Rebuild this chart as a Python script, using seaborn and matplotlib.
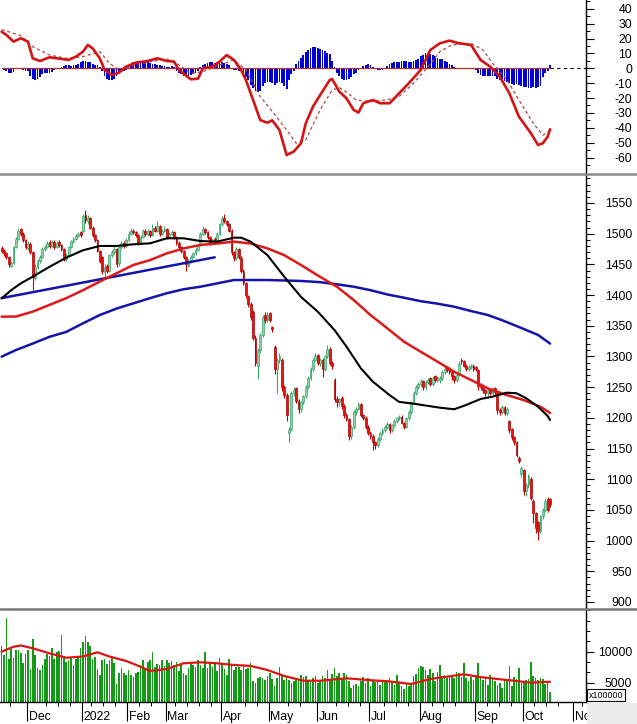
import numpy as np
import pandas as pd
import matplotlib
matplotlib.use("Agg")
import matplotlib.pyplot as plt
import seaborn as sns
from matplotlib.lines import Line2D
from matplotlib.patches import Rectangle
from matplotlib.ticker import MultipleLocator, FixedLocator, NullFormatter

# ---------------- data ----------------
first_day, last_day = "2021-11-16", "2022-10-18"
holidays = ["2022-01-03", "2022-01-31", "2022-02-01", "2022-02-02", "2022-02-03",
            "2022-02-04", "2022-04-11", "2022-05-02", "2022-05-03", "2022-09-01", "2022-09-02"]
month_labels = ["Dec", "2022", "Feb", "Mar", "Apr", "May", "Jun", "Jul", "Aug", "Sep", "Oct", "Nov"]
macd_ticks = [40, 30, 20, 10, 0, -10, -20, -30, -40, -50, -60]
price_ticks = [1550, 1500, 1450, 1400, 1350, 1300, 1250, 1200, 1150, 1100, 1050, 1000, 950, 900]
volume_ticks = [10000, 5000]

open_ = [
    1476, 1472, 1468, 1462, 1448, 1452, 1478, 1492, 1508, 1500,
    1490, 1476, 1484, 1470, 1428, 1445, 1455, 1462, 1475, 1478,
    1487, 1480, 1487, 1478, 1486, 1482, 1475, 1458, 1465, 1478,
    1488, 1492, 1497, 1502, 1505, 1530, 1520, 1525, 1510, 1498,
    1490, 1472, 1462, 1438, 1448, 1440, 1465, 1470, 1475, 1452,
    1478, 1485, 1480, 1490, 1500, 1505, 1502, 1498, 1485, 1495,
    1505, 1500, 1504, 1498, 1510, 1505, 1512, 1500, 1505, 1508,
    1495, 1500, 1502, 1495, 1485, 1478, 1472, 1462, 1448, 1455,
    1462, 1468, 1474, 1482, 1500, 1508, 1502, 1495, 1485, 1492,
    1488, 1500, 1515, 1526, 1520, 1515, 1505, 1470, 1460, 1475,
    1460, 1440, 1420, 1398, 1385, 1372, 1330, 1285, 1310, 1335,
    1368, 1360, 1370, 1348, 1316, 1280, 1295, 1295, 1250, 1238,
    1175, 1182, 1240, 1248, 1228, 1215, 1225, 1235, 1250, 1265,
    1280, 1295, 1302, 1290, 1295, 1280, 1300, 1312, 1290, 1262,
    1230, 1225, 1232, 1220, 1205, 1198, 1170, 1185, 1210, 1215,
    1222, 1205, 1200, 1185, 1175, 1170, 1160, 1155, 1165, 1175,
    1180, 1185, 1190, 1180, 1188, 1195, 1200, 1202, 1192, 1185,
    1200, 1210, 1225, 1240, 1250, 1255, 1260, 1250, 1258, 1265,
    1255, 1268, 1262, 1262, 1265, 1275, 1282, 1280, 1275, 1268,
    1262, 1270, 1295, 1292, 1285, 1280, 1283, 1285, 1282, 1278,
    1252, 1252, 1245, 1240, 1245, 1240, 1248, 1240, 1212, 1210,
    1218, 1208, 1195, 1182, 1168, 1160, 1135, 1108, 1115, 1080,
    1090, 1100, 1065, 1045, 1030, 1015, 1040, 1050, 1068, 1068,
]
high = [
    1480, 1475, 1470, 1463, 1456, 1480, 1495, 1510, 1510, 1502,
    1492, 1488, 1486, 1472, 1450, 1458, 1465, 1478, 1482, 1488,
    1490, 1490, 1489, 1488, 1489, 1484, 1477, 1468, 1480, 1490,
    1495, 1500, 1503, 1505, 1532, 1538, 1530, 1527, 1512, 1500,
    1492, 1474, 1464, 1450, 1450, 1467, 1473, 1480, 1477, 1480,
    1488, 1488, 1493, 1505, 1510, 1507, 1504, 1500, 1498, 1508,
    1507, 1507, 1506, 1515, 1513, 1520, 1514, 1508, 1512, 1510,
    1503, 1506, 1504, 1497, 1488, 1480, 1474, 1463, 1458, 1465,
    1470, 1477, 1483, 1502, 1512, 1510, 1504, 1497, 1493, 1494,
    1502, 1518, 1528, 1532, 1522, 1518, 1507, 1472, 1478, 1477,
    1463, 1442, 1422, 1400, 1388, 1375, 1335, 1314, 1338, 1368,
    1372, 1372, 1372, 1350, 1318, 1298, 1305, 1298, 1254, 1240,
    1185, 1243, 1250, 1250, 1230, 1228, 1238, 1253, 1268, 1283,
    1298, 1306, 1304, 1298, 1298, 1302, 1319, 1315, 1293, 1265,
    1235, 1233, 1235, 1222, 1208, 1200, 1188, 1212, 1218, 1225,
    1224, 1207, 1203, 1188, 1178, 1173, 1162, 1168, 1178, 1183,
    1188, 1193, 1192, 1190, 1198, 1202, 1205, 1204, 1194, 1202,
    1213, 1228, 1243, 1253, 1258, 1263, 1262, 1261, 1265, 1267,
    1268, 1270, 1268, 1268, 1278, 1283, 1284, 1282, 1277, 1270,
    1273, 1292, 1298, 1294, 1287, 1286, 1288, 1287, 1285, 1280,
    1256, 1255, 1247, 1248, 1247, 1251, 1250, 1242, 1216, 1221,
    1220, 1218, 1197, 1184, 1170, 1162, 1138, 1122, 1117, 1094,
    1108, 1103, 1067, 1047, 1032, 1042, 1053, 1070, 1071, 1070,
]
low = [
    1468, 1464, 1458, 1445, 1446, 1450, 1476, 1490, 1497, 1487,
    1475, 1474, 1467, 1408, 1425, 1442, 1452, 1460, 1472, 1476,
    1477, 1478, 1475, 1476, 1479, 1472, 1455, 1455, 1463, 1476,
    1485, 1490, 1495, 1495, 1502, 1518, 1516, 1508, 1495, 1487,
    1470, 1452, 1435, 1430, 1436, 1438, 1462, 1467, 1446, 1448,
    1475, 1477, 1478, 1488, 1498, 1499, 1495, 1482, 1483, 1493,
    1497, 1497, 1495, 1496, 1502, 1502, 1497, 1498, 1503, 1492,
    1493, 1498, 1492, 1482, 1475, 1469, 1459, 1440, 1445, 1452,
    1460, 1466, 1472, 1480, 1498, 1499, 1492, 1482, 1482, 1485,
    1486, 1498, 1513, 1517, 1512, 1502, 1466, 1455, 1457, 1458,
    1436, 1416, 1396, 1380, 1360, 1326, 1285, 1264, 1306, 1332,
    1355, 1356, 1356, 1340, 1272, 1240, 1290, 1243, 1232, 1195,
    1161, 1178, 1235, 1224, 1208, 1210, 1222, 1232, 1247, 1262,
    1277, 1292, 1286, 1285, 1267, 1277, 1298, 1286, 1280, 1226,
    1218, 1220, 1215, 1200, 1195, 1164, 1165, 1182, 1205, 1212,
    1202, 1196, 1182, 1172, 1165, 1147, 1150, 1152, 1162, 1172,
    1177, 1182, 1176, 1177, 1185, 1192, 1197, 1190, 1182, 1183,
    1197, 1207, 1222, 1237, 1247, 1252, 1246, 1247, 1255, 1252,
    1252, 1258, 1258, 1256, 1262, 1272, 1274, 1272, 1262, 1256,
    1258, 1268, 1288, 1282, 1276, 1277, 1280, 1277, 1276, 1245,
    1246, 1240, 1236, 1236, 1237, 1237, 1238, 1207, 1204, 1207,
    1204, 1205, 1176, 1164, 1156, 1136, 1126, 1104, 1075, 1072,
    1086, 1066, 1028, 1012, 1001, 1012, 1036, 1046, 1046, 1055,
]
close = [
    1472, 1468, 1462, 1450, 1452, 1478, 1492, 1505, 1500, 1490,
    1478, 1484, 1470, 1430, 1445, 1455, 1462, 1475, 1478, 1485,
    1480, 1487, 1478, 1485, 1482, 1475, 1458, 1465, 1478, 1488,
    1492, 1497, 1500, 1498, 1528, 1522, 1525, 1510, 1498, 1490,
    1472, 1455, 1440, 1445, 1440, 1465, 1470, 1475, 1450, 1478,
    1485, 1480, 1490, 1500, 1505, 1502, 1498, 1485, 1495, 1505,
    1500, 1504, 1498, 1510, 1505, 1512, 1500, 1505, 1508, 1495,
    1500, 1502, 1495, 1485, 1478, 1472, 1462, 1450, 1455, 1462,
    1468, 1474, 1480, 1500, 1508, 1502, 1495, 1485, 1490, 1488,
    1500, 1515, 1524, 1520, 1515, 1505, 1470, 1460, 1475, 1462,
    1440, 1420, 1400, 1385, 1365, 1330, 1290, 1310, 1335, 1365,
    1360, 1368, 1360, 1345, 1280, 1295, 1300, 1250, 1238, 1205,
    1180, 1240, 1245, 1228, 1215, 1225, 1235, 1250, 1265, 1280,
    1295, 1300, 1290, 1295, 1280, 1300, 1312, 1290, 1285, 1230,
    1225, 1230, 1220, 1205, 1198, 1170, 1185, 1210, 1215, 1222,
    1205, 1200, 1185, 1175, 1170, 1160, 1155, 1165, 1175, 1180,
    1185, 1190, 1180, 1188, 1195, 1200, 1202, 1192, 1185, 1200,
    1210, 1225, 1240, 1250, 1255, 1260, 1250, 1258, 1262, 1255,
    1265, 1262, 1266, 1265, 1275, 1280, 1278, 1275, 1268, 1262,
    1270, 1288, 1292, 1285, 1280, 1283, 1285, 1280, 1280, 1252,
    1250, 1245, 1240, 1245, 1240, 1248, 1242, 1212, 1210, 1218,
    1208, 1215, 1180, 1168, 1160, 1140, 1130, 1118, 1080, 1090,
    1105, 1070, 1045, 1020, 1015, 1040, 1050, 1065, 1050, 1060,
]
volume = [
    11000, 9500, 15400, 8800, 10500, 9000, 10200, 10300, 9800, 8200,
    9700, 10200, 7200, 12000, 9500, 7400, 7000, 7800, 8900, 9600,
    9300, 10600, 8800, 9900, 10100, 12700, 9300, 8300, 8700, 9200,
    7800, 8900, 9200, 10600, 11600, 12600, 11500, 10900, 8800, 9100,
    7200, 6200, 8600, 8800, 8000, 8700, 9000, 8200, 4800, 6500,
    7300, 6600, 6200, 7000, 6300, 5900, 6500, 6800, 7800, 8700,
    7300, 8300, 8600, 9900, 7600, 8000, 7800, 8600, 7700, 8700,
    8100, 8500, 7900, 8300, 6900, 8000, 6600, 6200, 7400, 8000,
    7800, 7500, 8600, 7900, 7400, 10000, 7400, 8000, 7600, 8400,
    6900, 9000, 8200, 7200, 6300, 8900, 7800, 7000, 7500, 7600,
    7000, 8000, 7200, 7400, 8100, 5300, 5000, 5700, 5900, 5700,
    5400, 6000, 6600, 5600, 4400, 5800, 7600, 6200, 5500, 6000,
    5500, 4900, 5300, 5800, 5400, 6300, 5900, 6000, 5200, 5100,
    5800, 6000, 4900, 5500, 6000, 5800, 7000, 5400, 6400, 7300,
    6000, 6600, 5800, 6600, 6200, 5300, 4200, 4600, 4800, 4400,
    5300, 5900, 5000, 5800, 4400, 5300, 5100, 5400, 4700, 5500,
    5300, 5200, 5800, 5100, 4600, 6300, 4900, 4400, 4000, 5000,
    4500, 4600, 6000, 6400, 7300, 7700, 7500, 7000, 6200, 7200,
    6600, 5300, 6800, 7900, 6000, 6200, 5800, 6100, 5900, 5800,
    6700, 6500, 5900, 8100, 5700, 5300, 5900, 5500, 6300, 8100,
    5800, 5400, 5900, 4700, 6300, 5800, 5200, 4700, 5000, 4200,
    5500, 5300, 7700, 4400, 5900, 5600, 7300, 5000, 4900, 5400,
    5600, 8400, 6100, 5700, 5400, 5800, 5600, 4800, 5200, 3500,
]
macd_hist = [
    0, -1, -2, -3, -3.4, -2.5, -0.5, -0.5, -0.5, -1,
    -2, -1.5, -5, -7, -8, -7.5, -6, -4, -3.5, -3,
    -3, -2.5, -1, -0.5, 0, 1, 1.5, 2, 2, 1.5,
    2, 2.5, 3, 4, 5, 5, 4.5, 4, 3, 2.5,
    2, 1, -2, -5, -7, -8, -8, -7, -5, -3,
    -2, -1.5, -1, 2, 3, 4, 4.5, 5, 5, 4.5,
    4, 4, 3.5, 3, 3, 2.5, 2, 1.5, 1.5, 1,
    1, 1.5, 1, -2, -3, -4, -5, -5, -5, -4.5,
    -4, -3, -2, 1, 2, 3, 3.5, 4, 4, 3.5,
    3.5, 4, 4, 3.5, 3, 2, 0, -1, -1, -1.5,
    -2, -4, -6, -8, -11, -13, -15, -16, -15, -12,
    -10, -9, -9, -10, -11, -10, -9, -10, -12, -14,
    -8, -4, -2, 3, 5, 7, 9, 11, 12.5, 13.5,
    14, 14, 13.5, 13, 12, 11.5, 10.5, 9.5, 5, 1,
    -3, -5, -7, -8, -8, -7, -6, -4, -3, -1,
    0, 1.5, 2.5, 2.7, 2.5, 1, -0.5, -1, -1, -1,
    -0.5, 1.5, 3, 3.5, 4, 4, 4.5, 5, 5, 5,
    4.5, 4.5, 5, 5.5, 6, 8, 9, 10, 10, 9.5,
    9, 8.5, 7, 6.5, 6, 5, 4, 3, 2, 1,
    0.5, 0.5, 0, 0, 0.5, 0, 0, -0.5, -1, -3,
    -4.5, -5, -5.5, -5.5, -5.5, -5, -5.5, -7, -8, -8,
    -8.5, -9, -10, -10.5, -11, -10.5, -11, -12, -12.5, -12.5,
    -13, -13, -12.5, -13, -12.5, -12, -6, -3, -1.5, 2,
]

# moving averages / indicator lines (trading-day number, value)
ma_black_day = [0, 4, 8, 13, 20, 27, 34, 41, 48, 55, 62, 69, 76, 83, 90, 97, 100, 104, 111, 118,
                125, 132, 139, 144, 150, 155, 162, 166, 173, 183, 189, 194, 200, 205, 211, 215,
                219, 224, 228, 229]
ma_black_val = [1394.6, 1408, 1419, 1430, 1446, 1461, 1473, 1480, 1480, 1482.7, 1484.3, 1492.5,
                1492.5, 1488, 1487, 1493.5, 1493.5, 1487, 1465, 1430, 1397, 1373, 1343, 1316,
                1280.7, 1259, 1237, 1226, 1222.5, 1216.5, 1214, 1221, 1230.7, 1234.5, 1241, 1240,
                1232, 1218, 1203, 1196.5]
ma_red_day = [0, 6, 13, 20, 27, 34, 41, 48, 55, 62, 69, 76, 83, 90, 97, 104, 111, 118, 125, 132,
              140, 147, 154, 161, 168, 175, 182, 189, 196, 203, 211, 218, 225, 229]
ma_red_val = [1364.8, 1365, 1373, 1384, 1395, 1408, 1422, 1435.5, 1449, 1457, 1468, 1476, 1481.6,
              1484, 1487, 1484, 1476, 1465, 1449, 1432, 1413.6, 1392, 1367.5, 1346, 1324, 1307.7,
              1291.5, 1275, 1261.6, 1248, 1237, 1229, 1218, 1208]
ma_blue_day = [0, 6, 13, 20, 27, 34, 41, 48, 55, 62, 69, 76, 83, 90, 97, 111, 125, 133, 140, 147,
               154, 161, 168, 175, 182, 189, 196, 203, 209, 216, 224, 229]
ma_blue_val = [1299.6, 1310.5, 1321, 1332, 1340, 1354, 1367.5, 1378, 1386.5, 1395, 1403, 1409.5,
               1413.6, 1419, 1424.5, 1424.5, 1423, 1421, 1417.5, 1413.6, 1408, 1401, 1395.7, 1390,
               1386, 1381, 1374, 1367.5, 1359, 1348, 1335, 1321]
trend_day = [0, 89]
trend_val = [1395, 1461.5]

macd_day = [0, 2, 5, 8, 11, 13, 16, 20, 24, 28, 31, 34, 36, 38, 41, 43, 46, 49, 52, 56, 61, 65,
            69, 72, 74, 79, 82, 84, 88, 91, 94, 97, 100, 102, 105, 108, 111, 113, 116, 119, 122,
            125, 127, 130, 133, 137, 138, 141, 144, 147, 149, 151, 155, 158, 162, 166, 170, 175,
            179, 183, 187, 191, 196, 200, 204, 208, 212, 216, 221, 224, 226, 228, 229]
macd_val = [24.6, 22.4, 17.9, 20.2, 17.9, 6.7, 4.9, 7.4, 6.5, 5.6, 7.8, 11.2, 15.7, 13.4, 6.7,
            -1.1, -4.5, -3, 1.1, 3.8, 4.9, 6.7, 4.9, 4.5, -1.1, -7.4, -7, 0, 1.1, 4.5, 8.9, 5.6,
            -1.1, -7.9, -21.3, -34.8, -36.6, -35, -41.5, -58.3, -56, -50.4, -37, -25.8, -18,
            -7.9, -7.2, -15.7, -20.2, -28, -29.8, -23.5, -21.3, -23.5, -23.5, -16.8, -10.1,
            -1.1, 12.3, 16.8, 18.6, 16.8, 15.7, 5.6, 1.1, -5.6, -16.8, -32.5, -43.7, -51.6,
            -50.4, -46, -41]
signal_day = [0, 8, 13, 20, 27, 34, 41, 45, 49, 55, 62, 69, 74, 79, 84, 90, 97, 102, 108, 113,
              119, 123, 127, 133, 138, 141, 144, 148, 154, 161, 166, 172, 178, 183, 188, 196, 201,
              205, 211, 216, 222, 226, 229]
signal_val = [26, 22, 14.5, 8.9, 6.7, 7.8, 11.2, 3.4, -1.1, 1.6, 4.5, 6.2, 2.3, -3.4, -2.3, 1.6,
              5.6, -1.1, -19, -29, -41.5, -50.4, -48, -28, -14.6, -13, -16, -21.3, -22.4, -21.3,
              -19, -10.1, 1.1, 11.2, 15.7, 16.8, 12.3, 3.4, -7.9, -21.3, -37, -45, -42]
vol_ma_day = [0, 5, 8, 13, 20, 27, 34, 40, 45, 52, 58, 62, 69, 76, 83, 90, 97, 104, 111, 118, 126,
              133, 144, 154, 161, 171, 179, 186, 193, 200, 207, 214, 221, 229]
vol_ma_val = [10000, 10800, 11000, 10550, 9740, 9030, 9230, 9900, 9230, 8500, 7580, 6890, 7210,
              8130, 8290, 8130, 7855, 7700, 7050, 6080, 5320, 5320, 5710, 5400, 5240, 4790, 5600,
              5970, 6355, 5900, 5600, 5320, 5000, 5160]

# ---------------- calendar ----------------
cal = pd.bdate_range(first_day, "2022-11-30", freq="C", holidays=holidays)
dates = cal[cal <= pd.Timestamp(last_day)]
n = len(dates)
pos = np.arange(n)
o = np.array(open_, float); h = np.array(high, float)
l = np.array(low, float); c = np.array(close, float)
assert len(o) == len(h) == len(l) == len(c) == len(volume) == len(macd_hist) == n

cal_idx = pd.Series(np.arange(len(cal)), index=cal)
month_first = cal_idx.groupby([cal.year, cal.month]).first().values[1:]
mondays = np.array([i for i, d in enumerate(cal) if d.dayofweek == 0
                    and np.min(np.abs(month_first - i)) > 3])

# ---------------- figure ----------------
sns.set_theme(style="white")
plt.rcParams["font.family"] = ["Liberation Sans", "DejaVu Sans"]
plt.rcParams["axes.unicode_minus"] = False

W, H = 637, 724
fig = plt.figure(figsize=(W / 100, H / 100), dpi=100)
fig.patch.set_facecolor("white")
ax_w = 585.5 / W
ax_m = fig.add_axes([0, 1 - 173 / H, ax_w, 173 / H])
ax_p = fig.add_axes([0, 1 - 608 / H, ax_w, 433 / H])
ax_v = fig.add_axes([0, 1 - 702 / H, ax_w, 92 / H])

XL = (-0.67, 243.8)
GREEN_UP = "#3FA56C"
RED_DN = "#E31414"

# ---- MACD panel
ax_m.bar(pos, macd_hist, width=0.75, color="#0000D8", linewidth=0, zorder=2)
ax_m.plot([pos[0], pos[-1]], [0, 0], color="#B03030", lw=0.9, zorder=3)
ax_m.plot([pos[-1], XL[1]], [0, 0], color="black", lw=0.8, ls=(0, (3, 3)), zorder=3)
sns.lineplot(x=signal_day, y=signal_val, ax=ax_m, color="#B04848", linewidth=0.9,
             linestyle=(0, (2.5, 2.2)), zorder=4)
sns.lineplot(x=macd_day, y=macd_val, ax=ax_m, color="#D41414", linewidth=1.9, zorder=5)
ax_m.set_ylim(-70.4, 45.9)
ax_m.yaxis.set_major_locator(FixedLocator(macd_ticks))
ax_m.yaxis.set_minor_locator(FixedLocator(np.arange(-65, 46, 5)))

# ---- price panel
up = c >= o
body_lo = np.minimum(o, c)
body_h = np.maximum(np.abs(c - o), 0.8)
ax_p.vlines(pos[up], l[up], h[up], color=GREEN_UP, lw=0.8, zorder=2)
ax_p.vlines(pos[~up], l[~up], h[~up], color="#C80000", lw=0.8, zorder=2)
ax_p.bar(pos[up], body_h[up], bottom=body_lo[up], width=0.75, color="#8FD3AC",
         edgecolor=GREEN_UP, linewidth=0.5, zorder=3)
ax_p.bar(pos[~up], body_h[~up], bottom=body_lo[~up], width=0.75, color=RED_DN,
         edgecolor="#B00000", linewidth=0.5, zorder=3)
sns.lineplot(x=ma_blue_day, y=ma_blue_val, ax=ax_p, color="#1414A8", linewidth=1.8, zorder=4)
sns.lineplot(x=trend_day, y=trend_val, ax=ax_p, color="#1414A8", linewidth=1.8, zorder=4)
sns.lineplot(x=ma_red_day, y=ma_red_val, ax=ax_p, color="#DC1A1A", linewidth=1.8, zorder=5)
sns.lineplot(x=ma_black_day, y=ma_black_val, ax=ax_p, color="black", linewidth=1.5, zorder=6)
ax_p.set_ylim(890.2, 1595.6)
ax_p.yaxis.set_major_locator(FixedLocator(price_ticks))
ax_p.yaxis.set_minor_locator(MultipleLocator(10))

# ---- volume panel
ax_v.bar(pos, volume, width=0.68, color="#139A16", linewidth=0, zorder=2)
sns.lineplot(x=vol_ma_day, y=vol_ma_val, ax=ax_v, color="#DC1414", linewidth=1.6, zorder=3)
ax_v.set_ylim(1887, 16726)
ax_v.yaxis.set_major_locator(FixedLocator(volume_ticks))
ax_v.yaxis.set_minor_locator(MultipleLocator(5000 / 3))

for ax in (ax_m, ax_p, ax_v):
    ax.set_xlim(*XL)
    ax.set_facecolor("white")
    ax.grid(False)
    ax.set_xlabel("")
    ax.set_ylabel("")
    for s in ("left", "top", "bottom"):
        ax.spines[s].set_visible(False)
    ax.spines["right"].set_color("black")
    ax.spines["right"].set_linewidth(1.0)
    ax.yaxis.tick_right()
    ax.tick_params(axis="y", which="major", direction="out", length=5.5, width=0.8,
                   color="black", pad=28, labelsize=8.8, labelcolor="black",
                   right=True, left=False, labelright=True, labelleft=False)
    ax.tick_params(axis="y", which="minor", direction="out", length=3, width=0.7,
                   color="black", right=True, left=False)
    ax.tick_params(axis="x", which="both", bottom=False, top=False, labelbottom=False)

ax_v.spines["bottom"].set_visible(True)
ax_v.spines["bottom"].set_color("black")
ax_v.spines["bottom"].set_linewidth(1.0)
ax_v.xaxis.set_major_locator(FixedLocator(month_first - 0.5))
ax_v.xaxis.set_minor_locator(FixedLocator(mondays - 0.5))
ax_v.xaxis.set_major_formatter(NullFormatter())
ax_v.tick_params(axis="x", which="major", bottom=True, direction="out", length=14,
                 width=0.8, color="black")
ax_v.tick_params(axis="x", which="minor", bottom=True, direction="out", length=3,
                 width=0.7, color="black")
for p, lab in zip(month_first, month_labels):
    ax_v.annotate(lab, xy=(p - 0.5, 0), xycoords=("data", "axes fraction"),
                  xytext=(1.3, -6.2), textcoords="offset points", ha="left", va="top",
                  fontsize=8.8, color="black", annotation_clip=False)

# separators between panels
for ypx, col in ((173.5, "#8a8a8a"), (609.0, "#7a7a7a")):
    fig.add_artist(Line2D([0, 1], [1 - ypx / H, 1 - ypx / H], transform=fig.transFigure,
                          color=col, lw=1.8, zorder=8))

# grey corner under the price scale
fig.add_artist(Rectangle((586.7 / W, 0), 1 - 586.7 / W, 21 / H, transform=fig.transFigure,
                         facecolor="#ececec", edgecolor="none", zorder=10))
fig.text(606 / W, 1 - 695 / H, "x100000", ha="center", va="center", fontsize=6.4,
         color="black", zorder=11,
         bbox=dict(boxstyle="square,pad=0.15", fc="white", ec="black", lw=0.8))

fig.canvas.draw()
for ax in (ax_m, ax_p, ax_v):
    for t in ax.get_yticklabels():
        t.set_horizontalalignment("right")

fig.savefig("out.png", dpi=100, facecolor="white")
